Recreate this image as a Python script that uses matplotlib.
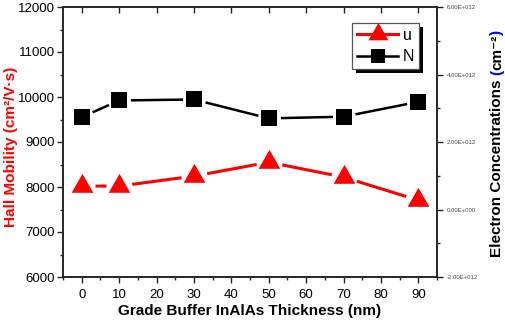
import numpy as np
import matplotlib
matplotlib.use("Agg")
import matplotlib.pyplot as plt
from matplotlib.lines import Line2D
from matplotlib.patches import Rectangle
from matplotlib.ticker import MultipleLocator, FuncFormatter
from matplotlib.transforms import IdentityTransform

plt.rcParams['font.family'] = ['Liberation Sans', 'DejaVu Sans']

thickness = [0, 10, 30, 50, 70, 90]
mobility = [8020, 8020, 8242, 8550, 8220, 7705]
concentration = [2.735e12, 3.23e12, 3.26e12, 2.70e12, 2.75e12, 3.19e12]
x_ticks = [0, 10, 20, 30, 40, 50, 60, 70, 80, 90]
series_labels = ["u", "N"]

RED = "#ff0000"
BLACK = "#000000"
SPINE = "#222222"

fig = plt.figure(figsize=(5.05, 3.22), dpi=100)
ax = fig.add_axes([63/505, 1-277/322, (437-63)/505, (277-7)/322])
ax2 = ax.twinx()

# triangle centred on its centroid (Origin style)
tri = [(-10.85, -6.33), (10.85, -6.33), (0, 12.67), (-10.85, -6.33)]
tri_ms = 18.2
sq_ms = 11.3
tri_gap_ms = 18.7   # white circular mask -> gap between line and marker
sq_gap_ms = 16.5

# mobility series (left axis)
ax.plot(thickness, mobility, color=RED, lw=2.2, solid_capstyle='butt', zorder=2)
ax.plot(thickness, mobility, ls='none', marker='o', ms=tri_gap_ms, mfc='white', mec='white', mew=0, zorder=3)
ax.plot(thickness, mobility, ls='none', marker=tri, ms=tri_ms, mfc=RED, mec=RED, mew=0, zorder=4)

# concentration series (right axis)
ax2.plot(thickness, concentration, color=BLACK, lw=1.8, solid_capstyle='butt', zorder=2)
ax2.plot(thickness, concentration, ls='none', marker='o', ms=sq_gap_ms, mfc='white', mec='white', mew=0, zorder=3)
ax2.plot(thickness, concentration, ls='none', marker='s', ms=sq_ms, mfc=BLACK, mec=BLACK, mew=0, zorder=4)

ax.set_xlim(-5, 95)
ax.set_ylim(6000, 12000)
ax2.set_ylim(-2e12, 6e12)

ax.set_xticks(x_ticks)
ax.xaxis.set_minor_locator(MultipleLocator(5))
ax.yaxis.set_major_locator(MultipleLocator(1000))
ax.yaxis.set_minor_locator(MultipleLocator(500))
ax2.yaxis.set_major_locator(MultipleLocator(2e12))
ax2.yaxis.set_minor_locator(MultipleLocator(1e12))

def sci(v, pos):
    if v == 0:
        return "0.00E+000"
    e = int(np.floor(np.log10(abs(v))))
    m = v / 10**e
    return f"{m:.2f}E+{e:03d}"
ax2.yaxis.set_major_formatter(FuncFormatter(sci))

for a in (ax, ax2):
    for s in a.spines.values():
        s.set_color(SPINE)
        s.set_linewidth(1.1)

ax.tick_params(axis='both', which='major', direction='out', length=4, width=1, color=SPINE,
               labelsize=9.5, pad=2)
ax.tick_params(axis='x', which='major', pad=5)
ax.tick_params(axis='both', which='minor', direction='out', length=2, width=1, color=SPINE)
ax.tick_params(axis='x', which='major', top=True, labeltop=False)
ax.tick_params(axis='x', which='minor', top=False)
ax2.tick_params(axis='y', which='major', direction='out', length=4, width=1, color=SPINE,
                labelsize=4.3, labelcolor='#444444', pad=3)
ax2.tick_params(axis='y', which='minor', direction='out', length=2, width=1, color=SPINE)

# top ticks inward
for t in ax.xaxis.get_major_ticks():
    t.tick2line.set_marker(matplotlib.lines.TICKDOWN)

ax.set_xlabel("Grade Buffer InAlAs Thickness (nm)", fontsize=11, fontweight='bold', labelpad=2)
fig.text(11/505, 1-147/322, "Hall Mobility (cm²/V·s)", rotation=90, ha='center', va='center',
         fontsize=11, fontweight='bold', color=RED)

# legend
handles = [
    Line2D([], [], color=RED, lw=2.2, marker=tri, ms=tri_ms * 0.92, mew=0),
    Line2D([], [], color=BLACK, lw=1.8, marker='s', ms=sq_ms * 0.9, mew=0),
]
leg = ax2.legend(handles, series_labels, loc='upper left', bbox_to_anchor=(0.773, 0.941),
                 borderaxespad=0, fontsize=11.5, frameon=True, fancybox=False, shadow=False,
                 handlelength=2.6, handletextpad=0.3, labelspacing=0.4, borderpad=0.3,
                 edgecolor='#555555', framealpha=1)
leg.get_frame().set_linewidth(0.9)
leg.set_zorder(10)

fig.canvas.draw()
r = fig.canvas.get_renderer()
bb = leg.get_window_extent(r)
shadow = Rectangle((bb.x0 + 4, bb.y0 - 4), bb.width, bb.height, transform=IdentityTransform(),
                   facecolor='black', edgecolor='none', zorder=9)
ax2.add_patch(shadow)

# right label with blue parentheses
pieces = [("Electron Concentrations ", BLACK), ("(", "#0000ff"), ("cm⁻²", BLACK), (")", "#0000ff")]
y0 = 257.0  # pixel from top, start of text (bottom)
xb = 501.0
ypix = 322 - y0
for txt, col in pieces:
    t = fig.text(xb/505, ypix/322, txt, rotation=90, rotation_mode='anchor', ha='left', va='baseline',
                 fontsize=11, fontweight='bold', color=col)
    fig.canvas.draw()
    e = t.get_window_extent(fig.canvas.get_renderer())
    ypix += e.height

fig.savefig("out.png", dpi=100)
